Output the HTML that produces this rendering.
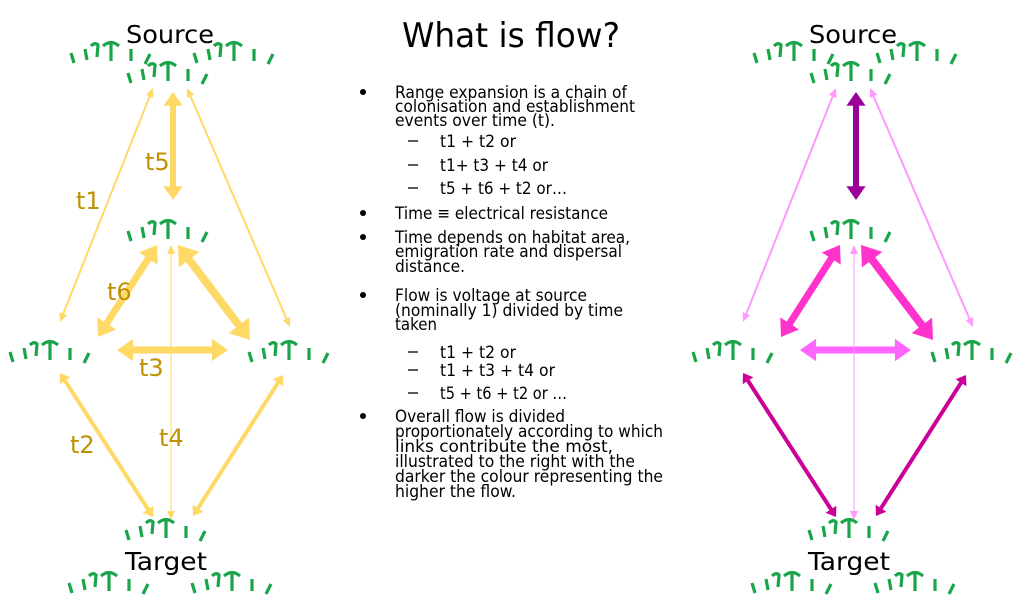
<!DOCTYPE html>
<html><head><meta charset="utf-8"><style>
html,body{margin:0;padding:0;background:#fff;}
svg{display:block;font-family:"DejaVu Sans","Liberation Sans",sans-serif;}
</style></head><body>
<svg id="s" width="1024" height="602" viewBox="0 0 1024 602" xmlns="http://www.w3.org/2000/svg">
<defs>
<g id="p" stroke="#1aa54a" stroke-width="3.2" fill="none" stroke-linecap="butt">
<line x1="6" y1="21" x2="9" y2="31"/>
<line x1="20" y1="17" x2="22" y2="28"/>
<path d="M26 14 Q30 10 33 13 L32 25"/>
<path d="M38 14 Q46 7 54 14 M46 11 L46 29"/>
<line x1="66" y1="17" x2="66" y2="29"/>
<line x1="85" y1="22" x2="80" y2="32"/>
</g>
</defs>
<g id="patches"></g>
<g id="arrows"></g>
<g font-size="25" fill="#000">
<text x="170" y="43" text-anchor="middle" textLength="88" lengthAdjust="spacingAndGlyphs">Source</text>
<text x="166" y="570" text-anchor="middle" textLength="82" lengthAdjust="spacingAndGlyphs">Target</text>
<text x="853" y="43" text-anchor="middle" textLength="88" lengthAdjust="spacingAndGlyphs">Source</text>
<text x="849" y="570" text-anchor="middle" textLength="82" lengthAdjust="spacingAndGlyphs">Target</text>
</g>
<g font-size="24" fill="#bf9000">
<text x="76" y="209">t1</text>
<text x="145" y="170">t5</text>
<text x="107" y="300">t6</text>
<text x="139" y="376">t3</text>
<text x="70" y="453">t2</text>
<text x="159" y="446">t4</text>
</g>
<text x="402" y="47" font-size="34" textLength="218" lengthAdjust="spacingAndGlyphs">What is flow?</text>
<g font-size="17" fill="#000" id="txt"></g>
</svg>
<script>
var NS="http://www.w3.org/2000/svg";
function el(t,a,p){var e=document.createElementNS(NS,t);for(var k in a)e.setAttribute(k,a[k]);p.appendChild(e);return e;}
var P=document.getElementById('patches');
function patch(cx,cy){el('use',{href:'#p',x:cx-45,y:cy-21},P);}
[0,683].forEach(function(d){
patch(110+d,53);patch(233+d,53);patch(167+d,73);patch(167+d,231);patch(49+d,352);patch(288+d,352);patch(165+d,530);patch(108+d,583);patch(231+d,583);});
var A=document.getElementById('arrows');
function arrow(x1,y1,x2,y2,w,c){
var dx=x2-x1,dy=y2-y1,L=Math.sqrt(dx*dx+dy*dy),ux=dx/L,uy=dy/L,nx=-uy,ny=ux;
var hl=Math.max(9,w*2.3),hw=Math.max(4,w*1.6);
el('line',{x1:x1+ux*hl*0.8,y1:y1+uy*hl*0.8,x2:x2-ux*hl*0.8,y2:y2-uy*hl*0.8,stroke:c,'stroke-width':w},A);
function head(px,py,sx){var bx=px+sx*ux*hl,by=py+sx*uy*hl;
el('polygon',{points:px+','+py+' '+(bx+nx*hw)+','+(by+ny*hw)+' '+(bx-nx*hw)+','+(by-ny*hw),fill:c},A);}
head(x1,y1,1);head(x2,y2,-1);}
var Y='#ffd966';
var L=[[153,88,60,322,2],[187,88,290,327,2],[173,92,173,200,6],[157,245,98,337,7],[178,245,250,340,8],[117,350,228,350,7],[171,245,171,520,1],[60,373,153,517,4],[283,375,193,516,4]];
var C=['#ff99ff','#ff99ff','#990099','#ff33cc','#ff33cc','#ff66ff','#ff99ff','#cc0099','#cc0099'];
L.forEach(function(a){arrow(a[0],a[1],a[2],a[3],a[4],Y);});
L.forEach(function(a,i){arrow(a[0]+683,a[1],a[2]+683,a[3],a[4],C[i]);});
var T=document.getElementById('txt');
var lines=[
[395,98,"Range expansion is a chain of",232,1],[395,112,"colonisation and establishment",240],[395,126,"events over time (t).",160],
[440,147,"t1 + t2 or",76,2],[440,171,"t1+ t3 + t4 or",108,2],[440,194,"t5 + t6 + t2 or…",127,2],
[395,219,"Time ≡ electrical resistance",213,1],
[395,243,"Time depends on habitat area,",235,1],[395,257,"emigration rate and dispersal",227],[395,272,"distance.",70],
[395,301,"Flow is voltage at source",192,1],[395,316,"(nominally 1) divided by time",228],[395,330,"taken",42],
[440,358,"t1 + t2 or",76,2],[440,376,"t1 + t3 + t4 or",115,2],[440,399,"t5 + t6 + t2 or …",127,2],
[395,422,"Overall flow is divided",170,1],[395,437,"proportionately according to which",268],[395,452,"links contribute the most,",218],[395,467,"illustrated to the right with the",240],[395,482,"darker the colour representing the",268],[395,497,"higher the flow.",121]];
lines.forEach(function(l){var t=el('text',{x:l[0],y:l[1],textLength:l[3],lengthAdjust:'spacingAndGlyphs'},T);t.textContent=l[2];
if(l[4]==1){el('circle',{cx:363,cy:l[1]-6,r:3,fill:'#000'},T);}
if(l[4]==2){el('line',{x1:408,y1:l[1]-6,x2:418,y2:l[1]-6,stroke:'#000','stroke-width':1.3},T);}});
</script>
</body></html>
